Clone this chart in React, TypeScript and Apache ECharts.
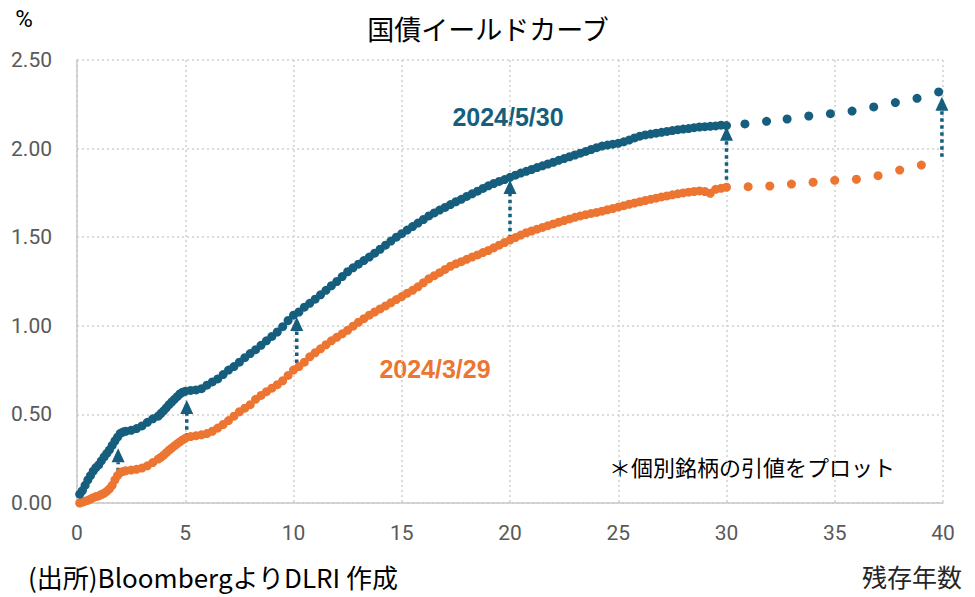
import React, { useEffect, useRef } from "react";
import * as echarts from "echarts";

const BLUE = "#165E7D";
const ORANGE = "#ED7532";

const shortMaturities = [0.125, 0.375, 0.625, 0.875, 1.125, 1.375, 1.625, 1.875, 2.125, 3.875, 4.125, 4.375, 4.625, 4.875];
const shortYieldsMay = [0.05, 0.1, 0.155, 0.2, 0.238, 0.28, 0.325, 0.372, 0.4, 0.505, 0.537, 0.57, 0.6, 0.625];
const shortYieldsMar = [0.0, 0.01, 0.022, 0.036, 0.048, 0.066, 0.1, 0.155, 0.178, 0.258, 0.284, 0.31, 0.334, 0.356];

const maturities = [
  0.25, 0.5, 0.75, 1.0, 1.25, 1.5, 1.75, 2.0, 2.25, 2.5, 2.75, 3.0, 3.25, 3.5, 3.75, 4.0, 4.25, 4.5, 4.75, 5.0,
  5.25, 5.5, 5.75, 6.0, 6.25, 6.5, 6.75, 7.0, 7.25, 7.5, 7.75, 8.0, 8.25, 8.5, 8.75, 9.0, 9.25, 9.5, 9.75, 10.0,
  10.25, 10.5, 10.75, 11.0, 11.25, 11.5, 11.75, 12.0, 12.25, 12.5, 12.75, 13.0, 13.25, 13.5, 13.75, 14.0, 14.25, 14.5, 14.75, 15.0,
  15.25, 15.5, 15.75, 16.0, 16.25, 16.5, 16.75, 17.0, 17.25, 17.5, 17.75, 18.0, 18.25, 18.5, 18.75, 19.0, 19.25, 19.5, 19.75, 20.0,
  20.25, 20.5, 20.75, 21.0, 21.25, 21.5, 21.75, 22.0, 22.25, 22.5, 22.75, 23.0, 23.25, 23.5, 23.75, 24.0, 24.25, 24.5, 24.75, 25.0,
  25.25, 25.5, 25.75, 26.0, 26.25, 26.5, 26.75, 27.0, 27.25, 27.5, 27.75, 28.0, 28.25, 28.5, 28.75, 29.0, 29.25, 29.5, 29.75, 30.0,
];

// 2024/5/30
const yieldsMay = [
  0.07, 0.13, 0.18, 0.215, 0.26, 0.3, 0.35, 0.393, 0.405, 0.41, 0.42, 0.435, 0.455, 0.475, 0.49, 0.52, 0.555, 0.585, 0.615, 0.63,
  0.635, 0.638, 0.645, 0.665, 0.683, 0.7, 0.725, 0.75, 0.77, 0.795, 0.82, 0.843, 0.865, 0.89, 0.915, 0.94, 0.965, 0.995, 1.03, 1.06,
  1.078, 1.105, 1.127, 1.15, 1.175, 1.2, 1.226, 1.25, 1.278, 1.305, 1.327, 1.348, 1.368, 1.388, 1.41, 1.432, 1.455, 1.478, 1.5, 1.52,
  1.54, 1.56, 1.58, 1.6, 1.62, 1.637, 1.653, 1.668, 1.684, 1.7, 1.714, 1.73, 1.745, 1.76, 1.775, 1.79, 1.803, 1.815, 1.825, 1.838,
  1.85, 1.862, 1.872, 1.882, 1.893, 1.903, 1.913, 1.923, 1.934, 1.944, 1.954, 1.964, 1.974, 1.984, 1.995, 2.005, 2.014, 2.02, 2.025, 2.03,
  2.038, 2.048, 2.06, 2.07, 2.077, 2.082, 2.087, 2.092, 2.097, 2.102, 2.107, 2.11, 2.113, 2.118, 2.122, 2.124, 2.126, 2.128, 2.132, 2.13,
];

// 2024/3/29
const yieldsMar = [
  0.005, 0.015, 0.03, 0.04, 0.055, 0.08, 0.13, 0.172, 0.182, 0.186, 0.19, 0.197, 0.21, 0.228, 0.248, 0.27, 0.298, 0.322, 0.345, 0.365,
  0.375, 0.38, 0.385, 0.392, 0.405, 0.423, 0.443, 0.465, 0.49, 0.515, 0.535, 0.555, 0.585, 0.607, 0.628, 0.648, 0.668, 0.69, 0.72, 0.75,
  0.77, 0.795, 0.825, 0.848, 0.87, 0.893, 0.915, 0.935, 0.955, 0.975, 0.998, 1.02, 1.04, 1.06, 1.078, 1.095, 1.112, 1.13, 1.148, 1.165,
  1.183, 1.2, 1.22, 1.243, 1.265, 1.283, 1.3, 1.318, 1.336, 1.35, 1.362, 1.375, 1.388, 1.4, 1.413, 1.425, 1.44, 1.455, 1.47, 1.484,
  1.498, 1.512, 1.525, 1.535, 1.545, 1.555, 1.565, 1.575, 1.585, 1.594, 1.603, 1.612, 1.62, 1.627, 1.634, 1.64, 1.647, 1.655, 1.662, 1.67,
  1.678, 1.686, 1.693, 1.7, 1.707, 1.714, 1.72, 1.727, 1.733, 1.739, 1.745, 1.75, 1.754, 1.758, 1.761, 1.758, 1.748, 1.77, 1.776, 1.782,
];

const farMaturitiesMay = [30.85, 31.85, 32.8, 33.8, 34.8, 35.8, 36.8, 37.8, 38.8, 39.8];
const farYieldsMay = [2.139, 2.154, 2.167, 2.184, 2.197, 2.212, 2.235, 2.26, 2.284, 2.32];
const farMaturitiesMar = [31, 32, 33, 34, 35, 36, 37, 38, 39];
const farYieldsMar = [1.785, 1.789, 1.8, 1.81, 1.821, 1.827, 1.847, 1.879, 1.907];

const arrowX = [1.9, 5.07, 10.15, 20, 30, 39.95];
const arrowFrom = [0.139, 0.374, 0.75, 1.494, 1.785, 1.954];
const arrowTo = [0.309, 0.581, 1.05, 1.823, 2.124, 2.293];

const xTicks = { min: 0, max: 40, interval: 5 };
const yTicks = { min: 0, max: 2.5, interval: 0.5 };

const FONT = "'Noto Sans CJK JP', 'Noto Sans', sans-serif";
const NUMFONT = "Roboto, 'Noto Sans', sans-serif";

export default function App() {
  const ref = useRef<HTMLDivElement>(null);
  useEffect(() => {
    if (!ref.current) return;
    const chart = echarts.init(ref.current, null, { renderer: "svg" });
    const mayData = shortMaturities
      .map((m, i) => [m, shortYieldsMay[i]])
      .concat(maturities.map((m, i) => [m, yieldsMay[i]]))
      .concat(farMaturitiesMay.map((m, i) => [m, farYieldsMay[i]]));
    const marData = shortMaturities
      .map((m, i) => [m, shortYieldsMar[i]])
      .concat(maturities.map((m, i) => [m, yieldsMar[i]]))
      .concat(farMaturitiesMar.map((m, i) => [m, farYieldsMar[i]]));
    const arrowData = arrowX.map((x, i) => [x, arrowFrom[i], arrowTo[i]]);
    const splitStyle = { color: "#d0d0d0", width: 1.5, type: [2, 3] as any };
    chart.setOption({
      animation: false,
      backgroundColor: "#ffffff",
      grid: { left: 77, right: 32, top: 60, bottom: 94, containLabel: false },
      xAxis: {
        type: "value",
        ...xTicks,
        axisLine: { show: true, lineStyle: { color: "#c8c8c8", width: 1.5 } },
        axisTick: { show: false },
        splitLine: { show: true, lineStyle: splitStyle },
        axisLabel: { color: "#595959", fontSize: 21, fontFamily: NUMFONT, margin: 19 },
      },
      yAxis: {
        type: "value",
        ...yTicks,
        axisLine: { show: true, lineStyle: { color: "#c8c8c8", width: 1.5 } },
        axisTick: { show: false },
        splitLine: { show: true, lineStyle: splitStyle },
        axisLabel: {
          color: "#595959",
          fontSize: 21,
          fontFamily: NUMFONT,
          margin: 25,
          formatter: (v: number) => v.toFixed(2),
        },
      },
      series: [
        {
          type: "scatter",
          name: "2024/3/29",
          data: marData,
          symbolSize: 9,
          itemStyle: { color: ORANGE, opacity: 1 },
        },
        {
          type: "scatter",
          name: "2024/5/30",
          data: mayData,
          symbolSize: 9,
          itemStyle: { color: BLUE, opacity: 1 },
        },
        {
          type: "custom",
          data: arrowData,
          encode: { x: 0, y: [1, 2] },
          renderItem: (params: any, api: any) => {
            const x = api.value(0);
            const p0 = api.coord([x, api.value(1)]);
            const p1 = api.coord([x, api.value(2)]);
            const headH = 14;
            const headW = 13;
            return {
              type: "group",
              children: [
                {
                  type: "line",
                  shape: { x1: p0[0], y1: p0[1], x2: p1[0], y2: p1[1] + headH },
                  style: { stroke: BLUE, lineWidth: 3.5, lineDash: [3.5, 3.5] },
                },
                {
                  type: "polygon",
                  shape: {
                    points: [
                      [p1[0], p1[1]],
                      [p1[0] - headW / 2, p1[1] + headH],
                      [p1[0] + headW / 2, p1[1] + headH],
                    ],
                  },
                  style: { fill: BLUE },
                },
              ],
            };
          },
        },
      ],
      graphic: [
        {
          type: "text",
          x: 488,
          y: 28,
          style: { text: "国債イールドカーブ", fill: "#000", font: `27px ${FONT}`, align: "center", verticalAlign: "middle" },
        },
        {
          type: "text",
          x: 24,
          y: 19,
          style: { text: "%", fill: "#000", font: `24px ${NUMFONT}`, align: "center", verticalAlign: "middle" },
        },
        {
          type: "text",
          x: 508,
          y: 117,
          style: { text: "2024/5/30", fill: BLUE, font: `bold 25px 'Liberation Sans', Arial, sans-serif`, align: "center", verticalAlign: "middle" },
        },
        {
          type: "text",
          x: 435,
          y: 369,
          style: { text: "2024/3/29", fill: ORANGE, font: `bold 25px 'Liberation Sans', Arial, sans-serif`, align: "center", verticalAlign: "middle" },
        },
        {
          type: "text",
          x: 752,
          y: 466,
          style: { text: "＊個別銘柄の引値をプロット", fill: "#000", font: `22px ${FONT}`, align: "center", verticalAlign: "middle" },
        },
        {
          type: "text",
          x: 28,
          y: 576,
          style: { text: "(出所)BloombergよりDLRI 作成", fill: "#000", font: `26px ${FONT}`, align: "left", verticalAlign: "middle" },
        },
        {
          type: "text",
          x: 962,
          y: 576,
          style: { text: "残存年数", fill: "#262626", font: `25px ${FONT}`, align: "right", verticalAlign: "middle" },
        },
      ],
    });
    return () => chart.dispose();
  }, []);
  return <div ref={ref} style={{ position: "fixed", left: 0, top: 0, width: 975, height: 597, background: "#fff" }} />;
}
